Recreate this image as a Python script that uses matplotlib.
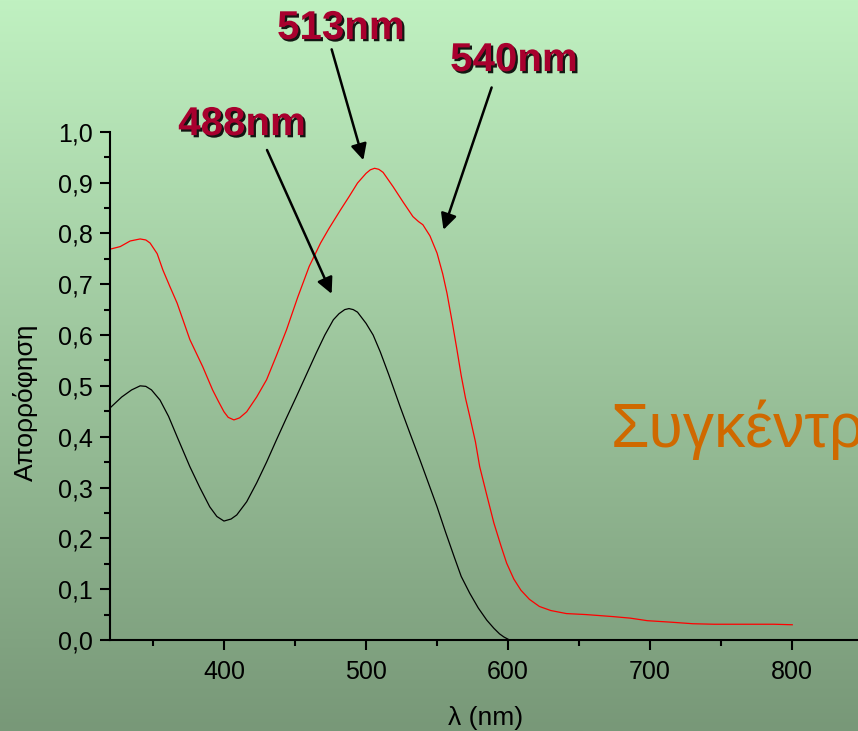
import numpy as np
import matplotlib
matplotlib.use('Agg')
import matplotlib.pyplot as plt
import matplotlib.patheffects as pe
from matplotlib.colors import LinearSegmentedColormap

plt.rcParams['font.family'] = ['Liberation Sans', 'DejaVu Sans']

# Absorption spectra (wavelength in nm, absorbance)
wl_black = [320, 328, 335, 341, 345, 349, 355, 361, 367, 376, 383, 390, 395, 400,
            405, 409, 416, 423, 430, 437, 444, 451, 458, 465, 471, 477, 481, 485,
            488, 491, 494, 500, 505, 510, 516, 524, 531, 538, 544, 550, 556, 562,
            567, 573, 579, 585, 590, 594, 597, 601]
abs_black = [0.457, 0.478, 0.492, 0.500, 0.499, 0.492, 0.472, 0.440, 0.400, 0.341,
             0.300, 0.262, 0.243, 0.234, 0.238, 0.246, 0.272, 0.309, 0.350, 0.394,
             0.437, 0.479, 0.522, 0.565, 0.600, 0.630, 0.642, 0.650, 0.652, 0.650,
             0.645, 0.623, 0.600, 0.567, 0.522, 0.459, 0.406, 0.354, 0.308, 0.262,
             0.212, 0.164, 0.125, 0.092, 0.063, 0.039, 0.023, 0.012, 0.006, 0.000]

wl_red = [320, 327, 334, 341, 345, 348, 353, 357, 362, 367, 376, 385, 392, 396,
          400, 403, 407, 411, 416, 423, 430, 437, 444, 452, 460, 468, 474, 482,
          488, 494, 500, 503, 506, 509, 512, 519, 526, 533, 537, 540, 545, 550,
          554, 557, 561, 564, 567, 570, 573, 577, 580, 585, 590, 595, 599, 604,
          609, 615, 622, 630, 641, 655, 674, 686, 698, 715, 730, 745, 765, 787, 800]
abs_red = [0.769, 0.774, 0.785, 0.789, 0.787, 0.781, 0.760, 0.728, 0.695, 0.663,
           0.591, 0.538, 0.492, 0.470, 0.449, 0.438, 0.433, 0.437, 0.449, 0.478,
           0.512, 0.560, 0.610, 0.675, 0.735, 0.781, 0.810, 0.846, 0.872, 0.899,
           0.918, 0.925, 0.928, 0.926, 0.920, 0.892, 0.862, 0.833, 0.823, 0.817,
           0.795, 0.761, 0.720, 0.682, 0.620, 0.571, 0.520, 0.476, 0.440, 0.390,
           0.341, 0.285, 0.230, 0.185, 0.151, 0.120, 0.098, 0.080, 0.066, 0.058,
           0.052, 0.050, 0.046, 0.043, 0.038, 0.035, 0.032, 0.031, 0.031, 0.031,
           0.030]

y_ticks = [0.0, 0.1, 0.2, 0.3, 0.4, 0.5, 0.6, 0.7, 0.8, 0.9, 1.0]
y_labels = ['0,0', '0,1', '0,2', '0,3', '0,4', '0,5', '0,6', '0,7', '0,8', '0,9', '1,0']
x_ticks = [400, 500, 600, 700, 800]
x_labels = ['400', '500', '600', '700', '800']

# Peak annotations: label, arrow tail (x, y), arrow tip (x, y), label centre (x, y)
peak_labels = ['488nm', '513nm', '540nm']
arrow_tails = [(430.3, 0.964), (475.8, 1.162), (588.4, 1.087)]
arrow_tips = [(475.8, 0.681), (498.1, 0.944), (554.5, 0.807)]
label_pos = [(412.7, 1.015), (482.3, 1.204), (604.1, 1.141)]

fig = plt.figure(figsize=(8.58, 7.31), dpi=100)

# green gradient background
bg = fig.add_axes([0, 0, 1, 1], zorder=0)
grad = LinearSegmentedColormap.from_list('bg', ['#c0f1c1', '#9cc49c', '#789878'])
bg.imshow(np.linspace(0, 1, 256).reshape(-1, 1), aspect='auto', cmap=grad,
          extent=[0, 1, 0, 1], origin='upper')
bg.axis('off')

px_per_nm = 1.42075
x0, x1 = 320, 880
ax = fig.add_axes([110.3 / 858, 91 / 731, (x1 - x0) * px_per_nm / 858, 508.3 / 731], zorder=1)
ax.patch.set_alpha(0)

ax.plot(wl_black, abs_black, color='black', lw=0.9)
ax.plot(wl_red, abs_red, color='#ff0000', lw=0.9)

ax.set_xlim(x0, x1)
ax.set_ylim(0, 1.0)
ax.spines['top'].set_visible(False)
ax.spines['right'].set_visible(False)
for s in ['left', 'bottom']:
    ax.spines[s].set_linewidth(1.5)

ax.set_xticks(x_ticks)
ax.set_xticklabels(x_labels)
ax.set_yticks(y_ticks)
ax.set_yticklabels(y_labels)
ax.set_xticks(np.arange(350, 900, 100), minor=True)
ax.set_yticks(np.arange(0.05, 1.0, 0.1), minor=True)
ax.tick_params(which='major', length=7.5, width=1.5, labelsize=18, pad=5, direction='out')
ax.tick_params(axis='x', which='major', pad=7)
ax.tick_params(which='minor', length=4.5, width=1.5, direction='out')

fig.text(25 / 858, 1 - 402 / 731, 'Απορρόφηση', rotation=90, fontsize=19,
         ha='center', va='center')
fig.text(486 / 858, 1 - 718 / 731, 'λ (nm)', fontsize=19, ha='center', va='center')

shadow = [pe.SimplePatchShadow(offset=(1.6, -1.6), shadow_rgbFace='black', alpha=0.9),
          pe.Normal()]
for lab, tail, tip, pos in zip(peak_labels, arrow_tails, arrow_tips, label_pos):
    ax.annotate('', xy=tip, xytext=tail, annotation_clip=False,
                arrowprops=dict(arrowstyle='-|>', color='black', lw=1.8,
                                mutation_scale=24, shrinkA=0, shrinkB=0))
    ax.text(pos[0], pos[1], lab, fontsize=29, fontweight='bold', color='#a8002e',
            ha='center', va='center', clip_on=False, path_effects=shadow)

# title word running off the right edge
ax.text(672.3, 0.380, 'Συγκέντρωση', fontsize=45, color='#cf6900',
        ha='left', va='baseline', clip_on=False)

fig.savefig('out.png', dpi=100)
